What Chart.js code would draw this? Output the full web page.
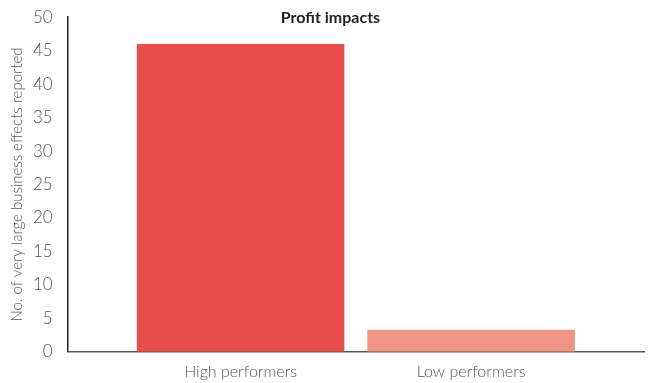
<!DOCTYPE html>
<html>
<head>
<meta charset="utf-8">
<script src="https://cdn.jsdelivr.net/npm/chart.js@4"></script>
<style>
  html, body { margin: 0; padding: 0; background: #fff; }
  #wrap { position: relative; width: 649px; height: 383px; }
  #title {
    position: absolute; top: 7px; left: 6px; width: 649px;
    text-align: center; font: bold 16px "Lato", sans-serif; color: #222;
  }
</style>
</head>
<body>
<div id="wrap">
  <canvas id="profitChart" width="649" height="383"></canvas>
  <div id="title">Profit impacts</div>
</div>
<script>
// data
const categories = ['High performers', 'Low performers'];
const effects = [46, 3.3];
const barColors = ['#e84f4c', '#f09483'];
const yTicks = [0, 5, 10, 15, 20, 25, 30, 35, 40, 45, 50];

const points = categories.map((c, i) => ({ x: i, y: effects[i] }));

const ctx = document.getElementById('profitChart').getContext('2d');
new Chart(ctx, {
    type: 'bar',
    data: {
        datasets: [{
            data: points,
            backgroundColor: barColors,
            borderWidth: 0,
            barPercentage: 0.9,
            categoryPercentage: 1
        }]
    },
    options: {
        responsive: false,
        animation: false,
        layout: { padding: { top: 15, right: 5, left: 0, bottom: -8 } },
        plugins: {
            legend: { display: false },
            tooltip: { enabled: false }
        },
        scales: {
            x: {
                type: 'linear',
                min: -0.75,
                max: 1.75,
                offset: false,
                afterBuildTicks: axis => {
                    axis.ticks = categories.map((c, i) => ({ value: i }));
                },
                ticks: {
                    callback: v => categories[v],
                    color: '#555',
                    font: { family: 'Lato', size: 16, weight: 300 },
                    padding: 10,
                    maxRotation: 0,
                    autoSkip: false
                },
                grid: { display: false, offset: false, drawTicks: false },
                border: { display: true, color: '#555', width: 1.5 }
            },
            y: {
                min: 0,
                max: 50,
                afterBuildTicks: axis => {
                    axis.ticks = yTicks.map(v => ({ value: v }));
                },
                ticks: {
                    color: '#555',
                    font: { family: 'Lato', size: 17, weight: 300 },
                    padding: 7
                },
                grid: { display: false },
                border: { display: true, color: '#222', width: 1.5 },
                title: {
                    display: true,
                    text: 'No. of very large business effects reported',
                    color: '#555',
                    font: { family: 'Lato', size: 15, weight: 300 },
                    padding: { top: 8, bottom: 0 }
                }
            }
        }
    }
});
</script>
</body>
</html>
